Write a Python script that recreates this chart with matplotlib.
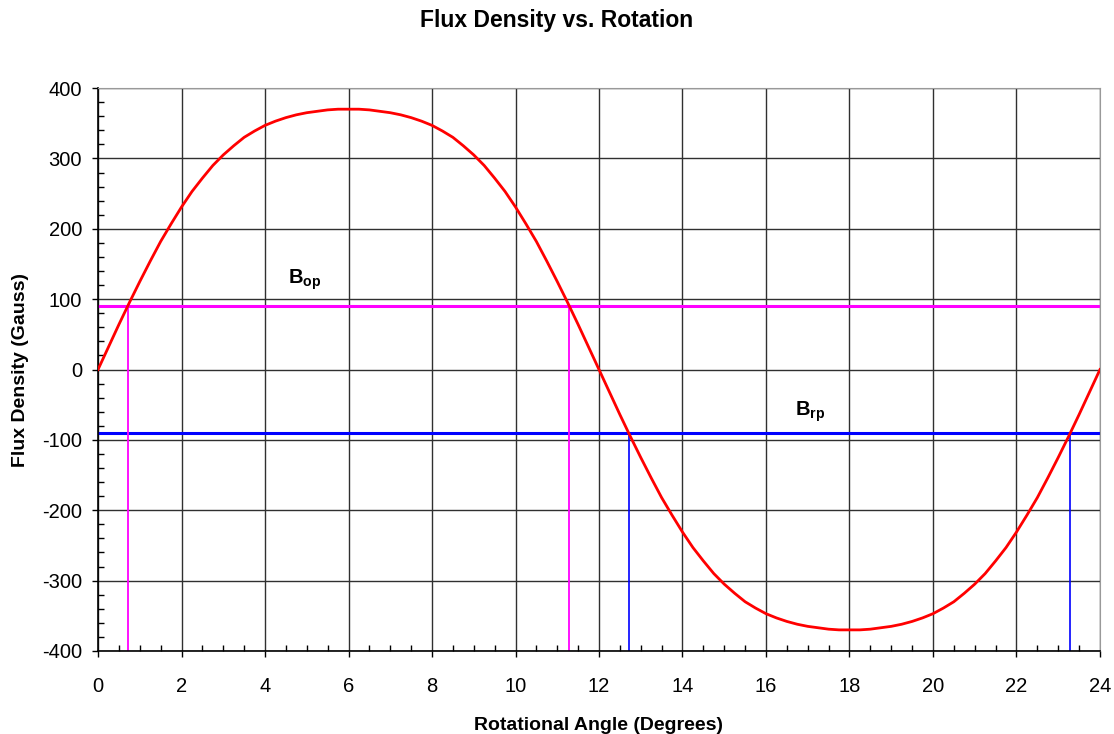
import numpy as np
import matplotlib.pyplot as plt
from matplotlib.ticker import MultipleLocator

# flux density, every quarter degree, 0 .. 5.75 deg
rise = [0, 32, 64, 95, 125, 154, 182, 207, 231, 253, 272, 290,
        305, 318, 330, 339, 347, 353, 358, 362, 365, 367, 369, 370]
PEAK = 370
half = rise + [PEAK] + rise[:0:-1]          # 0 .. 11.75 deg
flux = half + [-v for v in half] + [0]      # 0 .. 24 deg
angle = np.arange(len(flux)) * 0.25

B_OP = 90
B_RP = -90
op_angles = [0.72, 11.28]
rp_angles = [12.72, 23.28]

plt.rcParams['font.family'] = ['Liberation Sans', 'DejaVu Sans']
plt.rcParams['axes.unicode_minus'] = False
plt.rcParams['mathtext.fontset'] = 'custom'
plt.rcParams['mathtext.rm'] = 'Liberation Sans'
plt.rcParams['mathtext.bf'] = 'Liberation Sans:bold'

fig = plt.figure(figsize=(11.14, 7.34), dpi=100)
ax = fig.add_axes([0.088, 0.1131, 0.8994, 0.7669])

ax.set_xlim(0, 24)
ax.set_ylim(-400, 400)
ax.xaxis.set_major_locator(MultipleLocator(2))
ax.xaxis.set_minor_locator(MultipleLocator(0.5))
ax.yaxis.set_major_locator(MultipleLocator(100))
ax.yaxis.set_minor_locator(MultipleLocator(20))
ax.grid(True, which='major', color='#303030', linewidth=1.0)
ax.set_axisbelow(True)
ax.tick_params(which='major', direction='out', length=4.5, width=1, labelsize=14.5)
ax.tick_params(axis='x', which='major', pad=14)
ax.tick_params(axis='y', which='major', pad=7)
ax.tick_params(which='minor', direction='in', length=4, width=1)
for s in ['top', 'right']:
    ax.spines[s].set_color('#999999')
for s in ['left', 'bottom']:
    ax.spines[s].set_color('black')
    ax.spines[s].set_linewidth(1.2)

ax.axhline(B_OP, color='#ff00ff', linewidth=2.2, zorder=2)
ax.axhline(B_RP, color='#0000ff', linewidth=2.2, zorder=2)
for a in op_angles:
    ax.plot([a, a], [-400, B_OP], color='#ff00ff', linewidth=1.3, zorder=2)
for a in rp_angles:
    ax.plot([a, a], [-400, B_RP], color='#0000ff', linewidth=1.2, zorder=2)

ax.plot(angle, flux, color='#ff0000', linewidth=2.0, zorder=3)

ax.text(4.95, 127, r'$\mathbf{B_{op}}$', fontsize=14.5, ha='center', va='center')
ax.text(17.05, -60, r'$\mathbf{B_{rp}}$', fontsize=14.5, ha='center', va='center')

ax.set_xlabel('Rotational Angle (Degrees)', fontsize=14, fontweight='bold', labelpad=15)
ax.set_ylabel('Flux Density (Gauss)', fontsize=14, fontweight='bold', labelpad=9)
fig.text(0.5, 0.972, 'Flux Density vs. Rotation', fontsize=16.5, fontweight='bold',
         ha='center', va='center')

fig.savefig('out.png', dpi=100)
